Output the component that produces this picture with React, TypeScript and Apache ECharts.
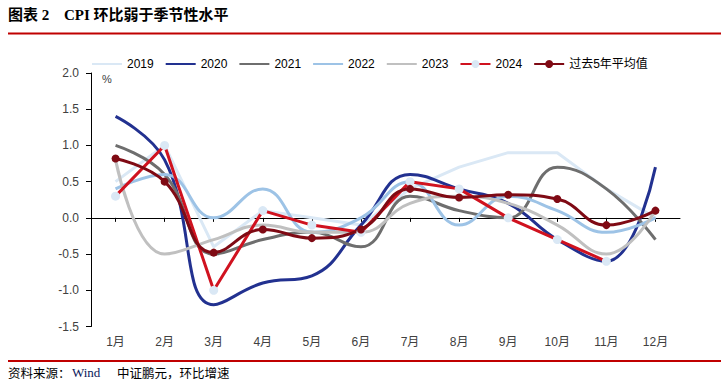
import React, { useEffect, useRef } from "react";
import * as echarts from "echarts";

const months = ["1月", "2月", "3月", "4月", "5月", "6月", "7月", "8月", "9月", "10月", "11月", "12月"];
const y2019 = [0.5, 1.0, -0.4, 0.1, 0.0, -0.1, 0.4, 0.7, 0.9, 0.9, 0.4, 0.0];
const y2020 = [1.4, 0.8, -1.2, -0.9, -0.8, -0.1, 0.6, 0.4, 0.2, -0.3, -0.6, 0.7];
const y2021 = [1.0, 0.6, -0.5, -0.3, -0.2, -0.4, 0.3, 0.1, 0.0, 0.7, 0.4, -0.3];
const y2022 = [0.4, 0.6, 0.0, 0.4, -0.2, 0.0, 0.5, -0.1, 0.3, 0.1, -0.2, 0.0];
const y2023 = [0.8, -0.5, -0.3, -0.1, -0.2, -0.2, 0.2, 0.3, 0.2, -0.1, -0.5, 0.1];
const y2024 = [0.3, 1.0, -1.0, 0.1, -0.1, -0.2, 0.5, 0.4, 0.0, -0.3, -0.6, null];
const avg5 = [0.82, 0.5, -0.48, -0.16, -0.28, -0.16, 0.4, 0.28, 0.32, 0.26, -0.1, 0.1];
const yTicks = { min: -1.5, max: 2.0, interval: 0.5 };

const RED = "#C00000";
const SMOOTH = 0.45;

export default function App() {
  const ref = useRef<HTMLDivElement>(null);
  useEffect(() => {
    if (!ref.current) return;
    const chart = echarts.init(ref.current, null, { renderer: "svg" });
    const smoothLine = (name: string, data: any[], color: string) => ({
      name,
      type: "line",
      data,
      smooth: SMOOTH,
      symbol: "none",
      lineStyle: { color, width: 3 },
      itemStyle: { color },
    });
    const plain = (name: string) => ({ name, itemStyle: { opacity: 0 } });
    chart.setOption({
      animation: false,
      grid: { left: 91, right: 43, top: 73, bottom: 55.5 },
      legend: {
        left: 86,
        top: 53,
        itemWidth: 30,
        itemHeight: 10,
        itemGap: 11,
        textStyle: { fontSize: 12, color: "#000", fontFamily: "Arial, 'Liberation Sans', 'Noto Sans CJK SC'" },
        data: [plain("2019"), plain("2020"), plain("2021"), plain("2022"), plain("2023"), { name: "2024" }, { name: "过去5年平均值" }],
      },
      xAxis: [
        {
          type: "category",
          data: months,
          position: "bottom",
          axisLine: { onZero: true, lineStyle: { color: "#000", width: 1 } },
          axisTick: { show: true, alignWithLabel: true, length: 4, lineStyle: { color: "#000" } },
          axisLabel: { show: false },
        },
        {
          type: "category",
          data: months,
          position: "bottom",
          axisLine: { show: false },
          axisTick: { show: false },
          axisLabel: {
            margin: 9,
            fontSize: 12,
            color: "#404040",
            fontFamily: "Arial, 'Liberation Sans', 'Noto Sans CJK SC'",
          },
        },
      ],
      yAxis: {
        type: "value",
        min: yTicks.min,
        max: yTicks.max,
        interval: yTicks.interval,
        axisLine: { show: true, lineStyle: { color: "#000", width: 1 } },
        axisTick: { show: true, length: 5, lineStyle: { color: "#000" } },
        splitLine: { show: false },
        axisLabel: {
          margin: 12,
          fontSize: 12,
          color: "#404040",
          fontFamily: "Arial, 'Liberation Sans'",
          formatter: (v: number) => v.toFixed(1),
        },
      },
      series: [
        {
          name: "2019",
          type: "line",
          data: y2019,
          smooth: false,
          symbol: "none",
          lineStyle: { color: "#DAE8F5", width: 3 },
          itemStyle: { color: "#DAE8F5" },
        },
        smoothLine("2020", y2020, "#223190"),
        smoothLine("2021", y2021, "#6E6E6E"),
        smoothLine("2022", y2022, "#9DC3E6"),
        smoothLine("2023", y2023, "#C0C0C0"),
        {
          name: "2024",
          type: "line",
          data: y2024,
          smooth: false,
          symbol: "circle",
          symbolSize: 9,
          showSymbol: true,
          lineStyle: { color: "#D0121F", width: 3 },
          itemStyle: { color: "#DAE8F5" },
        },
        {
          name: "过去5年平均值",
          type: "line",
          data: avg5,
          smooth: SMOOTH,
          symbol: "circle",
          symbolSize: 8,
          showSymbol: true,
          lineStyle: { color: "#7F0A14", width: 3 },
          itemStyle: { color: "#7F0A14" },
        },
      ],
      graphic: [
        {
          type: "text",
          left: 8,
          top: 7,
          style: {
            text: "图表 2",
            font: "bold 15px 'Times New Roman', 'Liberation Serif', 'Noto Sans CJK SC'",
            fill: "#000",
          },
        },
        {
          type: "text",
          left: 64,
          top: 7,
          style: {
            text: "CPI 环比弱于季节性水平",
            font: "bold 15px 'Times New Roman', 'Liberation Serif', 'Noto Sans CJK SC'",
            fill: "#000",
          },
        },
        { type: "rect", shape: { x: 8, y: 32.5, width: 713, height: 2 }, style: { fill: RED } },
        { type: "rect", shape: { x: 8, y: 360, width: 713, height: 2 }, style: { fill: RED } },
        {
          type: "text",
          left: 102,
          top: 73,
          style: { text: "%", font: "11px Arial, 'Liberation Sans'", fill: "#404040" },
        },
        {
          type: "text",
          left: 8,
          top: 366,
          style: { text: "资料来源：", font: "12.5px 'Noto Sans CJK SC'", fill: "#000" },
        },
        {
          type: "text",
          left: 72,
          top: 366,
          style: { text: "Wind", font: "13px 'Times New Roman', 'Liberation Serif'", fill: "#0A1A5A" },
        },
        {
          type: "text",
          left: 117,
          top: 366,
          style: { text: "中证鹏元，环比增速", font: "12.5px 'Noto Sans CJK SC'", fill: "#000" },
        },
      ],
    });
    return () => chart.dispose();
  }, []);
  return (
    <div
      ref={ref}
      style={{ position: "fixed", left: 0, top: 0, width: 723, height: 382, background: "#fff" }}
    />
  );
}
